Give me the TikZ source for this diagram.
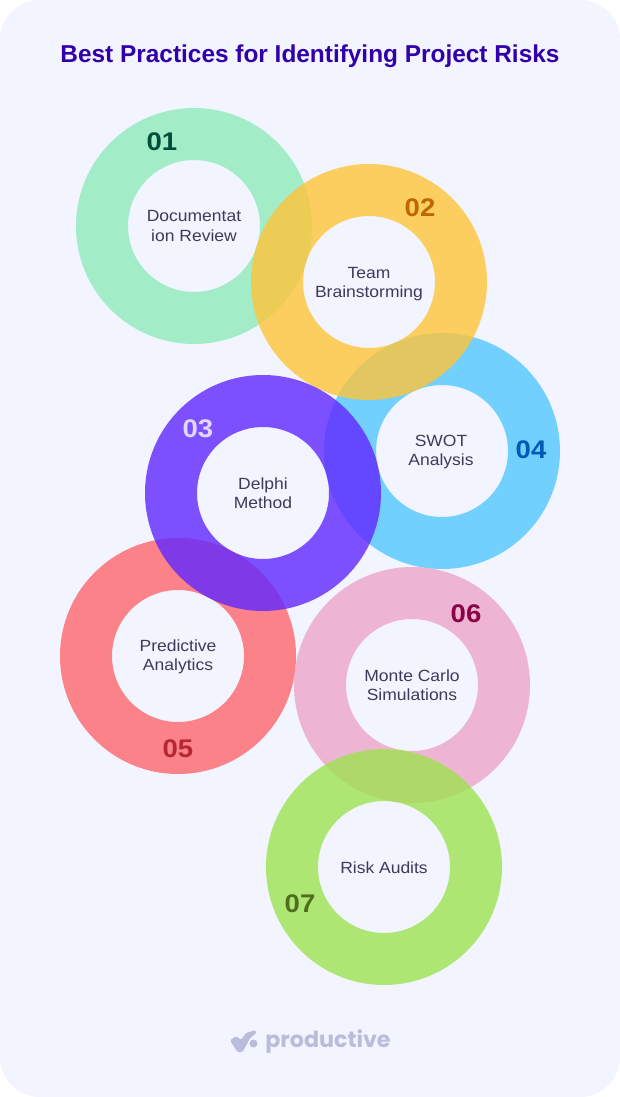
\documentclass[tikz,border=0pt]{standalone}
\usepackage{fontspec}
\setmainfont{Liberation Sans}
\newfontfamily\logofont{Poppins}
\newfontfamily\widefont[FakeStretch=1.08]{Liberation Sans}
\definecolor{cardbg}{RGB}{242,244,255}
\definecolor{titleink}{RGB}{49,0,170}
\definecolor{labelink}{RGB}{60,60,88}
\definecolor{logoink}{RGB}{185,188,218}
\definecolor{ringgreen}{RGB}{143,234,186}
\definecolor{ringblue}{RGB}{83,199,255}
\definecolor{ringyellow}{RGB}{255,196,56}
\definecolor{ringred}{RGB}{255,102,108}
\definecolor{ringpurple}{RGB}{96,39,255}
\definecolor{ringpink}{RGB}{237,164,201}
\definecolor{ringlime}{RGB}{158,227,80}
\tikzstyle{ring} = [even odd rule,fill opacity=0.8]
\tikzstyle{label} = [align=center,text=labelink,inner sep=0pt,font=\widefont\fontsize{16.2}{19.2}\selectfont]
\tikzstyle{num} = [inner sep=0pt,font=\widefont\fontsize{25.5}{25.5}\selectfont\bfseries]
\begin{document}
\begin{tikzpicture}[x=1pt,y=-1pt]
\useasboundingbox (0,0) rectangle (620,1097);
\fill[cardbg,rounded corners=40pt] (0,0) rectangle (620,1097);
\node[text=titleink,inner sep=0pt,font=\fontsize{24.4}{28}\selectfont\bfseries] (title) at (310,56) {Best Practices for Identifying Project Risks};
% rings, last one on top
\foreach \col/\x/\y in {ringgreen/194/226,ringblue/442/451,ringyellow/369/282,ringred/178/656,ringpurple/263/493,ringpink/412/685,ringlime/384/867}
  \fill[ring,\col] (\x,\y) circle (118pt) (\x,\y) circle (66pt);
\node[label] (docreview) at (194,226) {Documentat\\ion Review};
\node[label] (team) at (369,284.5) {Team\\Brainstorming};
\node[label] (delphi) at (263,493.5) {Delphi\\Method};
\node[label] (swot) at (441,452) {SWOT\\Analysis};
\node[label] (predictive) at (178,657) {Predictive\\Analytics};
\node[label] (monte) at (412,685) {Monte Carlo\\Simulations};
\node[label] (audits) at (384,867.5) {Risk Audits};
\node[num,text={rgb,255:red,0;green,80;blue,55}] (num1) at (162,142) {01};
\node[num,text={rgb,255:red,190;green,105;blue,0}] (num2) at (420,207.5) {02};
\node[num,text={rgb,255:red,225;green,215;blue,255}] (num3) at (198,428.5) {03};
\node[num,text={rgb,255:red,0;green,90;blue,180}] (num4) at (531,449.5) {04};
\node[num,text={rgb,255:red,180;green,40;blue,50}] (num5) at (178,748.5) {05};
\node[num,text={rgb,255:red,140;green,0;blue,70}] (num6) at (466,613.5) {06};
\node[num,text={rgb,255:red,80;green,110;blue,30}] (num7) at (300,903.5) {07};
% logo
\fill[logoink,rounded corners=1.5pt] (230,1040.5) -- (236,1036) -- (241,1040) -- (246,1033) -- (255.5,1030) -- (256.5,1033) -- (250,1038) -- (243,1051.5) -- (238,1052.5) -- cycle;
\fill[logoink] (253.5,1043.5) circle (4pt);
\node[text=logoink,inner sep=0pt,font=\logofont\fontsize{22.2}{24}\selectfont\bfseries] (logo) at (328,1042) {productive};
\end{tikzpicture}
\end{document}
